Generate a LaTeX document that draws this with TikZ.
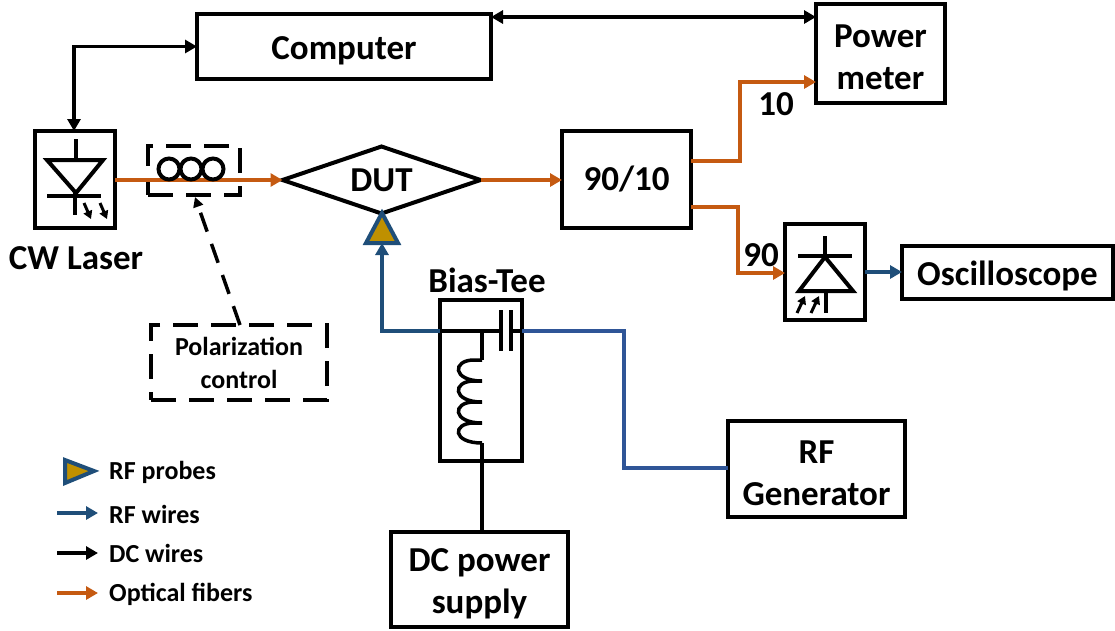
\documentclass[tikz,border=0pt]{standalone}
\usepackage{fontspec}
\setmainfont{Carlito}
\usetikzlibrary{positioning, calc, arrows.meta, shapes.geometric}

\definecolor{fiberc}{HTML}{C55A11}
\definecolor{rfc}{HTML}{1F4E79}
\definecolor{rfwire}{HTML}{2F5597}
\definecolor{probec}{HTML}{BF9000}

\newcommand{\bigfont}{\fontsize{35}{42}\bfseries\selectfont}
\newcommand{\smallfont}{\fontsize{26}{33}\bfseries\selectfont}
\newcommand{\lowstrut}{\rule{0pt}{31pt}}

\tikzset{
    blockbox/.style={draw, line width=4pt, inner sep=0pt, outer sep=0pt, align=center, font=\bigfont},
    dashbox/.style={draw, line width=3.5pt, dash pattern=on 25pt off 13pt, inner sep=0pt, outer sep=0pt, align=center},
    symline/.style={line width=4pt},
    thinsym/.style={line width=3pt},
    dcwire/.style={line width=3.5pt, draw=black},
    fiber/.style={line width=4pt, draw=fiberc},
    rfline/.style={line width=4pt, draw=rfc},
    tiparrow/.style={-{Triangle[length=12pt,width=13pt]}},
    doubletip/.style={{Triangle[length=12pt,width=13pt]}-{Triangle[length=12pt,width=13pt]}},
    minitip/.style={-{Triangle[length=8pt,width=9pt]}},
    probe/.style={draw=rfc, fill=probec, line width=4pt, line join=miter},
    label/.style={font=\bigfont, inner sep=0pt},
    legendtext/.style={font=\smallfont, anchor=west, inner sep=0pt},
}

\begin{document}
\begin{tikzpicture}[x=1pt, y=-1pt]
    \useasboundingbox (0,0) rectangle (1115,630);

    % Main blocks
    \node[blockbox, minimum width=294pt, minimum height=65pt] (computer) at (344,46.5) {\lowstrut Computer};
    \node[blockbox, minimum width=129pt, minimum height=99pt] (meter) at (880.5,53.5) {\lowstrut Power\\meter};
    \node[blockbox, minimum width=80pt, minimum height=97pt] (laser) at (75,179.5) {};
    \node[blockbox, minimum width=129pt, minimum height=97pt] (splitter) at (626.5,179.5) {90/10};
    \node[blockbox, minimum width=80pt, minimum height=96pt] (detector) at (825,272) {};
    \node[blockbox, minimum width=211pt, minimum height=53pt] (scope) at (1007.5,272.5) {\lowstrut Oscilloscope};
    \node[blockbox, minimum width=177pt, minimum height=96pt] (rfgen) at (816.5,469) {\lowstrut RF\\Generator};
    \node[blockbox, minimum width=177pt, minimum height=95pt] (dcsupply) at (479.5,579.5) {\lowstrut DC power\\supply};
    \node[blockbox, diamond, aspect=3, minimum width=198pt, minimum height=67pt] (dut) at (381.5,180) {DUT};

    % Dashed boxes
    \node[dashbox, minimum width=92pt, minimum height=49pt] (pcbox) at (194,170.5) {};
    \node[dashbox, minimum width=176pt, minimum height=75pt, font=\smallfont] (polbox) at (239,362.5) {Polarization\\control};

    % Bias tee box
    \node[draw, line width=3.5pt, minimum width=82pt, minimum height=161pt, inner sep=0pt, outer sep=0pt] (tee) at (481,380.5) {};

    % Junction points
    \coordinate (teeleft) at (440,331);
    \coordinate (teeright) at (522,331);
    \coordinate (teenode) at (482,331);
    \coordinate (coilbottom) at (482,443);
    \coordinate (probetip) at (382,213);
    \coordinate (probebase) at (382,243);

    % Probe on the DUT
    \draw[probe] (probetip) -- (398,243) -- (366,243) -- cycle;

    % Optical fibers
    \draw[fiber, tiparrow] (laser.east |- 0,180) -- (dut.west);
    \draw[fiber, tiparrow] (dut.east) -- (splitter.west |- 0,180);
    \draw[fiber, tiparrow] (691,161) -- (740,161) -- (740,82) -- (meter.west |- 0,82);
    \draw[fiber, tiparrow] (691,207) -- (738,207) -- (738,273) -- (detector.west |- 0,273);

    % DC wires
    \draw[dcwire, doubletip] (computer.west) -- (74,46.5) -- (laser.north -| 74,0);
    \draw[dcwire, doubletip] (computer.east |- 0,17) -- (meter.west |- 0,17);
    \draw[dcwire] (coilbottom) -- (dcsupply.north -| coilbottom);

    % RF wires
    \draw[rfline, tiparrow] (teeleft) -- (probetip |- teeleft) -- (probebase);
    \draw[rfwire, line width=4pt] (teeright) -- (624,331) -- (624,468) -- (rfgen.west |- 0,468);
    \draw[rfline, tiparrow] (detector.east |- 0,272) -- (scope.west |- 0,272);

    % Polarization pointer
    \draw[line width=3.5pt, dash pattern=on 20pt off 13pt, -{Triangle[length=10pt,width=10pt]}] (polbox.north -| 240,0) -- (195,197);

    % Polarization paddles
    \foreach \x in {169,191,213} {
        \draw[symline] (\x,169) circle (10.5);
    }

    % Laser symbol
    \draw[symline, line join=miter] (47,160) -- (103,160) -- (76,193) -- cycle;
    \draw[symline] (76,139) -- (76,160);
    \draw[symline] (47,196) -- (101,196);
    \draw[symline] (75,193) -- (75,215);
    \draw[thinsym, minitip] (84,203) -- (91,219);
    \draw[thinsym, minitip] (100,203) -- (107,219);

    % Photodetector symbol
    \draw[symline, line join=miter] (825,257) -- (853,291) -- (799,291) -- cycle;
    \draw[symline] (825,236) -- (825,257);
    \draw[symline] (798,256) -- (852,256);
    \draw[symline] (826,291) -- (826,313);
    \draw[thinsym, minitip] (797,313) -- (805,296);
    \draw[thinsym, minitip] (811,313) -- (819,296);

    % Bias tee inside
    \draw[symline] (teeleft) -- (501,331);
    \draw[symline] (501,310) -- (501,351);
    \draw[symline] (511,310) -- (511,351);
    \draw[symline] (511,331) -- (teeright);
    \draw[symline] (teenode) -- (482,360);
    \draw[line width=3.5pt] (482,360) -- (474,360)
        .. controls (452,360) and (452,381) .. (482,381)
        -- (474,381) .. controls (452,381) and (452,402) .. (482,402)
        -- (474,402) .. controls (452,402) and (452,423) .. (482,423)
        -- (474,423) .. controls (452,423) and (452,443) .. (482,443);

    % Labels
    \node[label] (laserlabel) at (76,258) {CW Laser};
    \node[label] (teelabel) at (487,280) {Bias-Tee};
    \node[label] (tenlabel) at (776,104) {10};
    \node[label] (ninetylabel) at (761,255) {90};

    % Legend
    \draw[probe] (65,460) -- (94,471) -- (65,483) -- cycle;
    \node[legendtext] (legprobe) at (109,472) {RF probes};
    \coordinate (legrfa) at (57,513);
    \coordinate (legdca) at (57,553);
    \coordinate (legopa) at (57,593);
    \node[legendtext] (legrf) at (109,514) {RF wires};
    \node[legendtext] (legdc) at (109,553) {DC wires};
    \node[legendtext] (legop) at (109,594) {Optical fibers};
    \draw[rfline, tiparrow] (legrfa) -- ++(41,0);
    \draw[dcwire, tiparrow] (legdca) -- ++(41,0);
    \draw[fiber, tiparrow] (legopa) -- ++(41,0);

\end{tikzpicture}
\end{document}
